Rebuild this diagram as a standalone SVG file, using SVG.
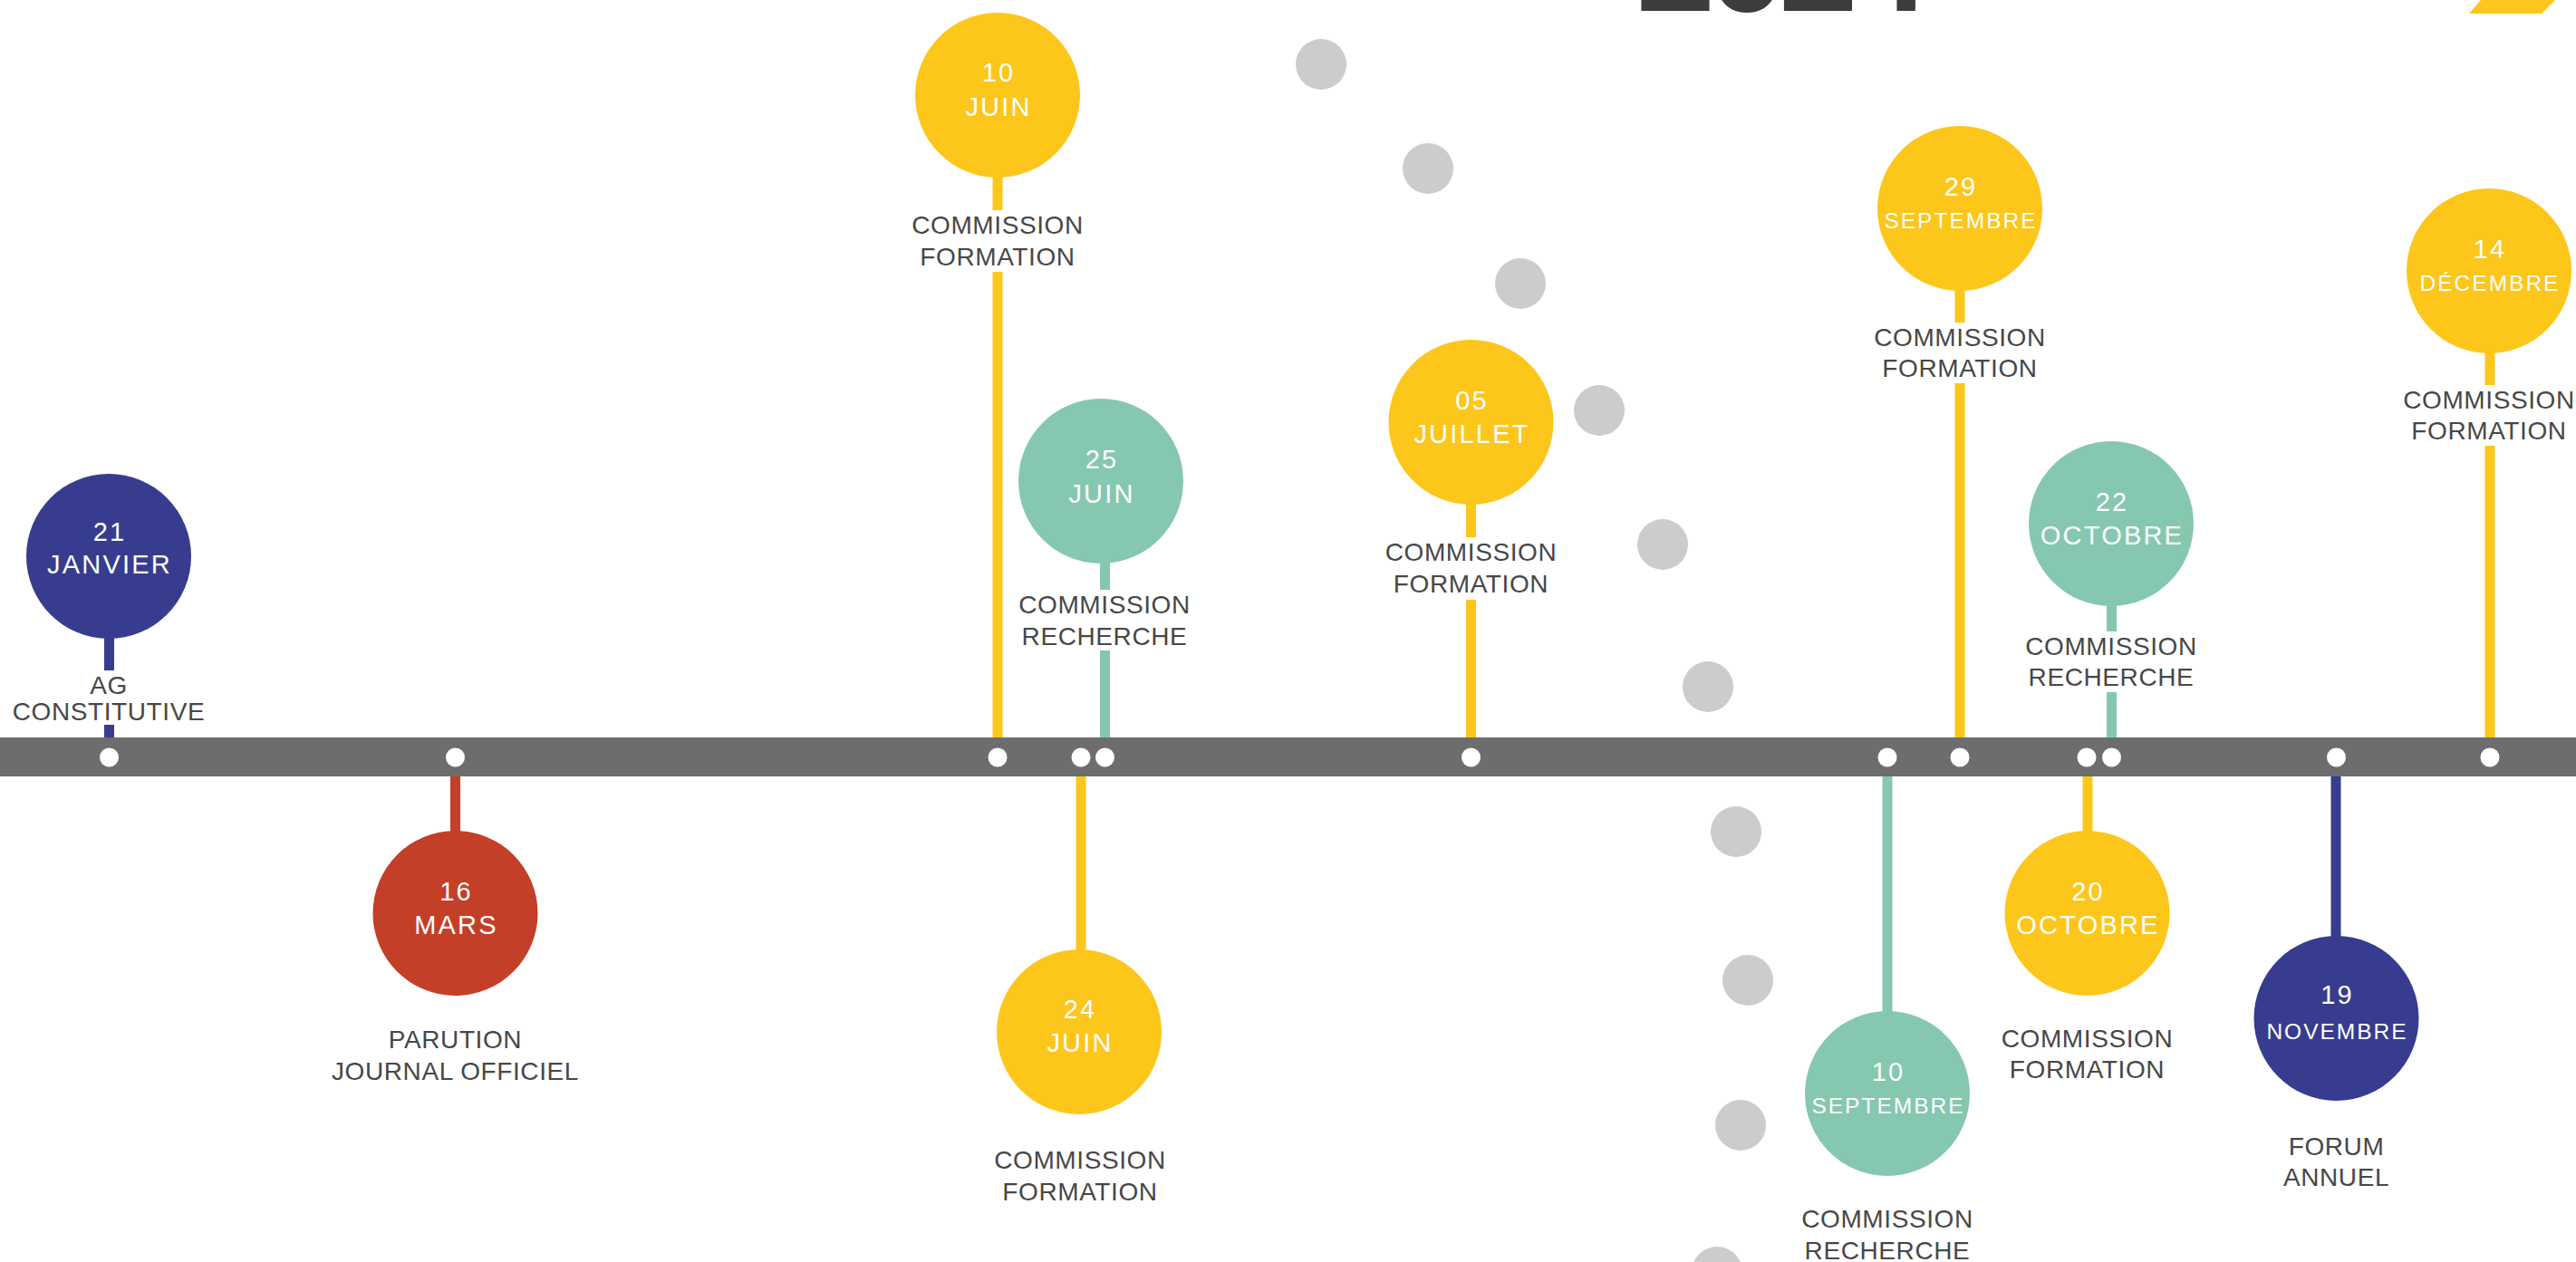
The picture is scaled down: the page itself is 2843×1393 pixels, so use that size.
<svg xmlns="http://www.w3.org/2000/svg" width="2843" height="1393" viewBox="0 0 2843 1393">
<style>
.bg{fill:#ffffff}
.yel{fill:#fdc61b}
.grn{fill:#86c7b0}
.nav{fill:#373c8f}
.red{fill:#c43f28}
.sy{stroke:#fdc61b;stroke-width:11}
.sg{stroke:#86c7b0;stroke-width:11}
.sn{stroke:#373c8f;stroke-width:11}
.sr{stroke:#c43f28;stroke-width:11}
.deco{fill:#cccccc}
.tick{fill:#ffffff}
.d{font-family:"Liberation Sans",Arial,sans-serif;font-size:29px;fill:#ffffff;text-anchor:middle;letter-spacing:2.2px}
.ds{font-family:"Liberation Sans",Arial,sans-serif;font-size:24.5px;fill:#ffffff;text-anchor:middle;letter-spacing:2px}
.lb{font-family:"Liberation Sans",Arial,sans-serif;font-size:28px;fill:#474747;text-anchor:middle;letter-spacing:0.6px}
.mask{fill:#ffffff}
</style>
<rect class="bg" x="0" y="0" width="2843" height="1393"/>

<!-- title fragment -->
<g id="title">
<text x="1806" y="12" font-family="Liberation Sans, Arial, sans-serif" font-weight="bold" font-size="156" letter-spacing="-8" fill="#3d3d3b">2024</text>
<polygon points="2738,0 2820,0 2805,15 2725,15" fill="#fdc61b"/>
</g>

<!-- decorative dotted arc -->
<g id="deco-dots">
<circle class="deco" cx="1458" cy="71" r="28"/>
<circle class="deco" cx="1576" cy="186" r="28"/>
<circle class="deco" cx="1678" cy="313" r="28"/>
<circle class="deco" cx="1765" cy="453" r="28"/>
<circle class="deco" cx="1835" cy="601" r="28"/>
<circle class="deco" cx="1885" cy="758" r="28"/>
<circle class="deco" cx="1916" cy="918" r="28"/>
<circle class="deco" cx="1929" cy="1082" r="28"/>
<circle class="deco" cx="1921" cy="1242" r="28"/>
<circle class="deco" cx="1895" cy="1404" r="28"/>
</g>

<!-- connectors (stems) -->
<g id="connectors">
<line class="sn" x1="120.5" y1="614" x2="120.5" y2="816"/>
<line class="sr" x1="502.5" y1="855" x2="502.5" y2="1008"/>
<line class="sy" x1="1101" y1="105" x2="1101" y2="816"/>
<line class="sg" x1="1219.5" y1="531" x2="1219.5" y2="816"/>
<line class="sy" x1="1193" y1="855" x2="1193" y2="1139"/>
<line class="sy" x1="1623.5" y1="466" x2="1623.5" y2="816"/>
<line class="sg" x1="2083" y1="855" x2="2083" y2="1207"/>
<line class="sy" x1="2163" y1="230" x2="2163" y2="816"/>
<line class="sg" x1="2330.5" y1="578" x2="2330.5" y2="816"/>
<line class="sy" x1="2304" y1="855" x2="2304" y2="1008"/>
<line class="sn" x1="2578" y1="855" x2="2578" y2="1124"/>
<line class="sy" x1="2748" y1="299" x2="2748" y2="816"/>
</g>

<!-- timeline bar -->
<g id="timeline">
<rect x="0" y="814" width="2843" height="43" fill="#6d6d6d"/>
<circle class="tick" cx="120.5" cy="836" r="10.5"/>
<circle class="tick" cx="502.5" cy="836" r="10.5"/>
<circle class="tick" cx="1101" cy="836" r="10.5"/>
<circle class="tick" cx="1193" cy="836" r="10.5"/>
<circle class="tick" cx="1219.5" cy="836" r="10.5"/>
<circle class="tick" cx="1623.5" cy="836" r="10.5"/>
<circle class="tick" cx="2083" cy="836" r="10.5"/>
<circle class="tick" cx="2163" cy="836" r="10.5"/>
<circle class="tick" cx="2303" cy="836" r="10.5"/>
<circle class="tick" cx="2330.5" cy="836" r="10.5"/>
<circle class="tick" cx="2578.5" cy="836" r="10.5"/>
<circle class="tick" cx="2748" cy="836" r="10.5"/>
</g>

<g id="n-21-janvier">
<circle class="nav" cx="120" cy="614" r="91"/>
<text class="d" x="121" y="597">21</text>
<text class="d" x="121" y="633">JANVIER</text>
<rect class="mask" x="100" y="740" width="42" height="60"/>
<text class="lb" x="120" y="766">AG</text>
<text class="lb" x="120" y="795">CONSTITUTIVE</text>
</g>

<g id="n-16-mars">
<circle class="red" cx="502.5" cy="1008" r="91"/>
<text class="d" x="503.5" y="994">16</text>
<text class="d" x="503.5" y="1031">MARS</text>
<text class="lb" x="502.5" y="1157">PARUTION</text>
<text class="lb" x="502.5" y="1192">JOURNAL OFFICIEL</text>
</g>

<g id="n-10-juin">
<circle class="yel" cx="1101" cy="105" r="91"/>
<text class="d" x="1102" y="90">10</text>
<text class="d" x="1102" y="128">JUIN</text>
<rect class="mask" x="1080" y="232" width="42" height="68"/>
<text class="lb" x="1101" y="258">COMMISSION</text>
<text class="lb" x="1101" y="293">FORMATION</text>
</g>

<g id="n-25-juin">
<circle class="grn" cx="1215" cy="531" r="91"/>
<text class="d" x="1216" y="517">25</text>
<text class="d" x="1216" y="555">JUIN</text>
<rect class="mask" x="1198" y="651" width="42" height="67"/>
<text class="lb" x="1219" y="677">COMMISSION</text>
<text class="lb" x="1219" y="712">RECHERCHE</text>
</g>

<g id="n-24-juin">
<circle class="yel" cx="1191" cy="1139" r="91"/>
<text class="d" x="1192" y="1124">24</text>
<text class="d" x="1192" y="1161">JUIN</text>
<text class="lb" x="1192" y="1290">COMMISSION</text>
<text class="lb" x="1192" y="1325">FORMATION</text>
</g>

<g id="n-05-juillet">
<circle class="yel" cx="1623.5" cy="466" r="91"/>
<text class="d" x="1624.5" y="452">05</text>
<text class="d" x="1624.5" y="489">JUILLET</text>
<rect class="mask" x="1602" y="593" width="42" height="69"/>
<text class="lb" x="1623.5" y="619">COMMISSION</text>
<text class="lb" x="1623.5" y="654">FORMATION</text>
</g>

<g id="n-10-septembre">
<circle class="grn" cx="2083" cy="1207" r="91"/>
<text class="d" x="2084" y="1193">10</text>
<text class="ds" x="2084" y="1229">SEPTEMBRE</text>
<text class="lb" x="2083" y="1355">COMMISSION</text>
<text class="lb" x="2083" y="1390">RECHERCHE</text>
</g>

<g id="n-29-septembre">
<circle class="yel" cx="2163" cy="230" r="91"/>
<text class="d" x="2164" y="216">29</text>
<text class="ds" x="2164" y="252">SEPTEMBRE</text>
<rect class="mask" x="2142" y="356" width="42" height="67"/>
<text class="lb" x="2163" y="382">COMMISSION</text>
<text class="lb" x="2163" y="416">FORMATION</text>
</g>

<g id="n-22-octobre">
<circle class="grn" cx="2330" cy="578" r="91"/>
<text class="d" x="2331" y="564">22</text>
<text class="d" x="2331" y="601">OCTOBRE</text>
<rect class="mask" x="2309" y="697" width="42" height="67"/>
<text class="lb" x="2330" y="723">COMMISSION</text>
<text class="lb" x="2330" y="757">RECHERCHE</text>
</g>

<g id="n-20-octobre">
<circle class="yel" cx="2303.5" cy="1008" r="91"/>
<text class="d" x="2304.5" y="994">20</text>
<text class="d" x="2304.5" y="1031">OCTOBRE</text>
<text class="lb" x="2303.5" y="1156">COMMISSION</text>
<text class="lb" x="2303.5" y="1190">FORMATION</text>
</g>

<g id="n-19-novembre">
<circle class="nav" cx="2578.5" cy="1124" r="91"/>
<text class="d" x="2579.5" y="1108">19</text>
<text class="ds" x="2579.5" y="1147">NOVEMBRE</text>
<text class="lb" x="2578.5" y="1275">FORUM</text>
<text class="lb" x="2578.5" y="1309">ANNUEL</text>
</g>

<g id="n-14-decembre">
<circle class="yel" cx="2747" cy="299" r="91"/>
<text class="d" x="2748" y="285">14</text>
<text class="ds" x="2748" y="321">DÉCEMBRE</text>
<rect class="mask" x="2727" y="425" width="42" height="67"/>
<text class="lb" x="2747" y="451">COMMISSION</text>
<text class="lb" x="2747" y="485">FORMATION</text>
</g>
</svg>
